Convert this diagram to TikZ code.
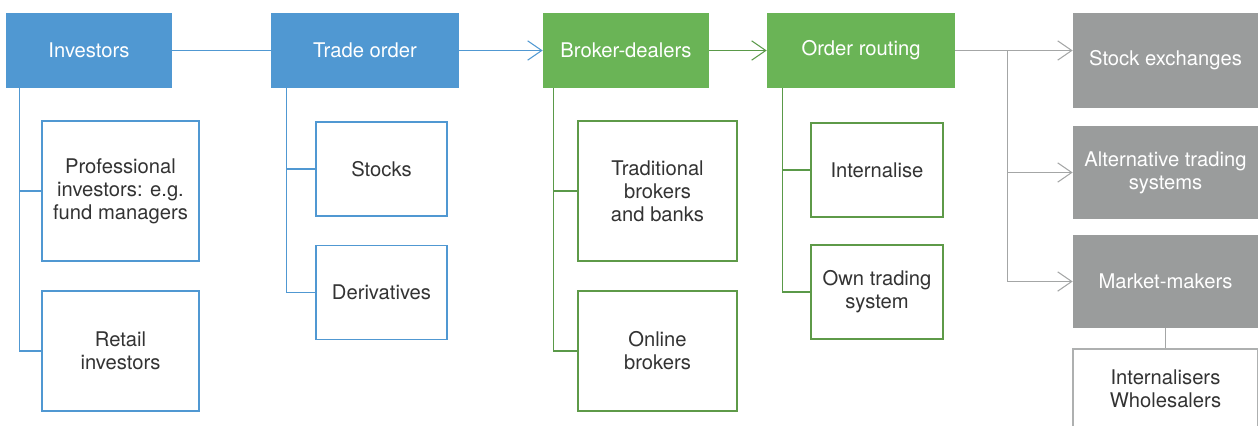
\documentclass[tikz,border=0pt]{standalone}
\usepackage{fontspec}
\setmainfont{TeX Gyre Heros}
\usetikzlibrary{arrows.meta, positioning}
\definecolor{invblue}{HTML}{5098D2}
\definecolor{brokgreen}{HTML}{6AB456}
\definecolor{subgreen}{HTML}{5E9A48}
\definecolor{venuegray}{HTML}{9A9C9C}
\definecolor{subtext}{HTML}{333333}
\tikzset{
    base/.style = {rectangle, align=center, inner sep=2pt,
        font=\fontsize{11.5}{13.2}\selectfont},
    % Top row
    head/.style      = {base, text=white, minimum height=1.5cm},
    bluehead/.style  = {head, fill=invblue},
    greenhead/.style = {head, fill=brokgreen},
    grayhead/.style  = {base, fill=venuegray, text=white, minimum width=3.7cm},
    % Sub-boxes
    sub/.style      = {base, fill=white, text=subtext, line width=1.1pt},
    bluesub/.style  = {sub, draw=invblue},
    greensub/.style = {sub, draw=subgreen},
    graysub/.style  = {sub, draw=venuegray!80, line width=1pt},
    % Connectors
    link/.style     = {line width=0.6pt},
    bluelink/.style = {link, draw=invblue},
    greenlink/.style= {link, draw=brokgreen!85!black},
    graylink/.style = {link, draw=venuegray!90},
    tip/.style      = {-{Straight Barb[length=8pt, width=11pt]}}
}
\begin{document}
\begin{tikzpicture}[x=0.02cm, y=-0.02cm]
    \useasboundingbox (0,0) rectangle (1258,426);
    \clip (0,0) rectangle (1258,426);

    % Top row
    \node (inv)     [bluehead, minimum width=3.32cm]  at (89,50.5)  {Investors};
    \node (trade)   [bluehead, minimum width=3.76cm]  at (365,50.5) {Trade order};
    \node (broker)  [greenhead, minimum width=3.32cm] at (626,50.5) {Broker-dealers};
    \node (routing) [greenhead, minimum width=3.76cm] at (861,50.5) {Order routing};

    % Venues
    \node (stock) [grayhead, minimum height=1.9cm]  at (1165.5,60.5)  {Stock exchanges};
    \node (ats)   [grayhead, minimum height=1.86cm] at (1165.5,172.5) {Alternative trading\\systems};
    \node (mm)    [grayhead, minimum height=1.86cm] at (1165.5,281.5) {Market-makers};
    \node (intw)  [graysub, minimum width=3.7cm, minimum height=1.6cm] at (1165.5,389) {Internalisers\\Wholesalers};

    % Sub-boxes
    \node (prof)   [bluesub, minimum width=3.14cm, minimum height=2.8cm]  at (120.5,191) {Professional\\investors: e.g.\\fund managers};
    \node (retail) [bluesub, minimum width=3.14cm, minimum height=2.4cm]  at (120.5,351) {Retail\\investors};
    \node (stocks) [bluesub, minimum width=2.62cm, minimum height=1.88cm] at (381.5,169) {Stocks};
    \node (deriv)  [bluesub, minimum width=2.62cm, minimum height=1.88cm] at (381.5,292.5) {Derivatives};
    \node (trad)   [greensub, minimum width=3.18cm, minimum height=2.8cm] at (657.5,191) {Traditional\\brokers\\and banks};
    \node (online) [greensub, minimum width=3.18cm, minimum height=2.4cm] at (657.5,351) {Online\\brokers};
    \node (intern) [greensub, minimum width=2.64cm, minimum height=1.88cm] at (877,170) {Internalise};
    \node (own)    [greensub, minimum width=2.64cm, minimum height=1.88cm] at (877,292) {Own trading\\system};

    % Main flow
    \draw [bluelink] (inv) -- (trade);
    \draw [bluelink, tip] (trade) -- (broker);
    \draw [greenlink, tip] (broker) -- (routing);

    % Branches under each step
    \draw [bluelink] ([xshift=0.28cm]inv.south west) coordinate (invtrunk) |- (retail.west);
    \draw [bluelink] (invtrunk |- prof.west) -- (prof.west);
    \draw [bluelink] ([xshift=0.32cm]trade.south west) coordinate (tradetrunk) |- (deriv.west);
    \draw [bluelink] (tradetrunk |- stocks.west) -- (stocks.west);
    \draw [greenlink] ([xshift=0.22cm]broker.south west) coordinate (brokertrunk) |- (online.west);
    \draw [greenlink] (brokertrunk |- trad.west) -- (trad.west);
    \draw [greenlink] ([xshift=0.32cm]routing.south west) coordinate (routetrunk) |- (own.west);
    \draw [greenlink] (routetrunk |- intern.west) -- (intern.west);

    % Routing to venues
    \coordinate (venuetrunk) at ([xshift=1.04cm]routing.east);
    \draw [graylink, tip] (routing.east) -- (routing.east -| stock.west);
    \draw [graylink] (venuetrunk) -- (venuetrunk |- mm.west);
    \draw [graylink, tip] (venuetrunk |- ats.west) -- (ats.west);
    \draw [graylink, tip] (venuetrunk |- mm.west) -- (mm.west);
    \draw [graylink] (mm) -- (intw);
\end{tikzpicture}
\end{document}
